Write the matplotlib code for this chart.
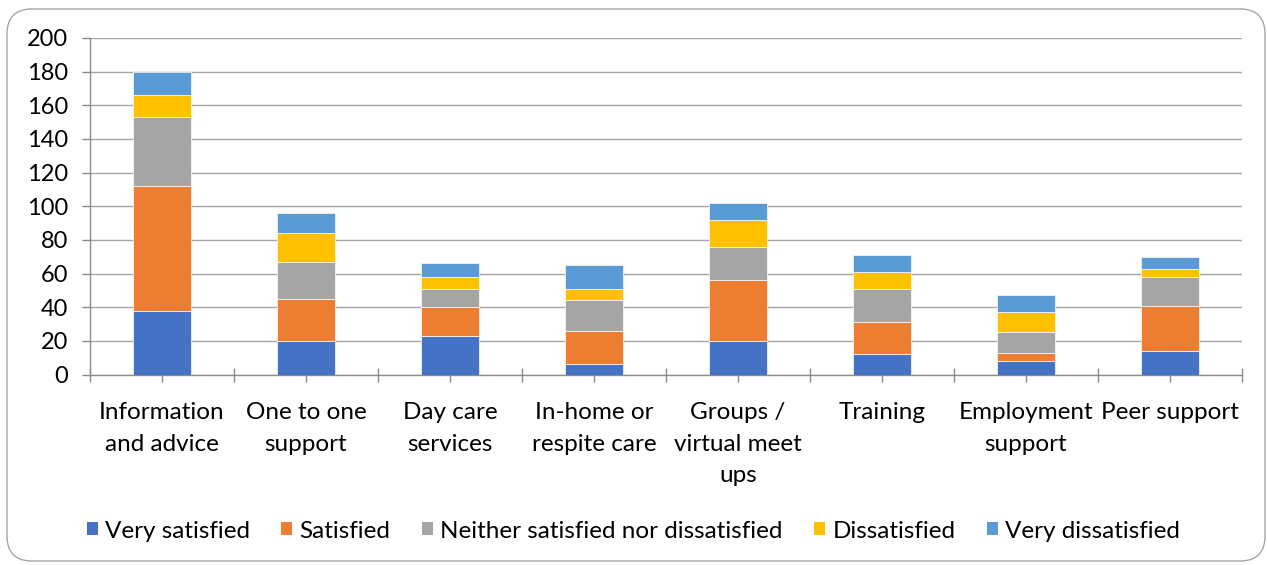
import matplotlib
matplotlib.use("Agg")
import matplotlib.pyplot as plt
from matplotlib.patches import FancyBboxPatch, Patch
import numpy as np

categories = ["Information\nand advice", "One to one\nsupport", "Day care\nservices",
              "In-home or\nrespite care", "Groups /\nvirtual meet\nups", "Training",
              "Employment\nsupport", "Peer support"]
series_names = ["Very satisfied", "Satisfied", "Neither satisfied nor dissatisfied",
                "Dissatisfied", "Very dissatisfied"]
very_satisfied = [38, 20, 23, 6, 20, 12, 8, 14]
satisfied = [74, 25, 17, 20, 36, 19, 5, 27]
neither = [41, 22, 11, 18, 20, 20, 12, 17]
dissatisfied = [13, 17, 7, 7, 16, 10, 12, 5]
very_dissatisfied = [14, 12, 8, 14, 10, 10, 10, 7]
yticks = [0, 20, 40, 60, 80, 100, 120, 140, 160, 180, 200]

colors = ["#4472C4", "#ED7D31", "#A5A5A5", "#FFC000", "#5B9BD5"]

plt.rcParams['font.family'] = ['Lato', 'DejaVu Sans']

W, H = 1267, 565
fig = plt.figure(figsize=(W / 100, H / 100), dpi=100)
ax = fig.add_axes([90 / W, 1 - 374.5 / H, (1242 - 90) / W, (374.5 - 38) / H])

x = np.arange(len(categories))
bottom = np.zeros(len(categories))
data = [very_satisfied, satisfied, neither, dissatisfied, very_dissatisfied]
for vals, name, c in zip(data, series_names, colors):
    ax.bar(x, vals, width=0.4, bottom=bottom, color=c, label=name,
           edgecolor="white", linewidth=0.5, zorder=3)
    bottom += np.array(vals)

ax.set_xlim(-0.5, len(categories) - 0.5)
ax.set_ylim(0, 200)
ax.set_yticks(yticks)
ax.set_yticklabels([str(v) for v in yticks], fontsize=17)
ax.yaxis.grid(True, color="#a6a6a6", linewidth=1.0, zorder=0)
ax.set_axisbelow(True)

ax.set_xticks(x)
ax.set_xticklabels(categories, fontsize=17.5, linespacing=1.62)
ax.set_xticks(np.arange(-0.5, len(categories), 1.0), minor=True)
ax.tick_params(axis='x', which='both', direction='inout', length=10, width=1.0,
               color="#8c8c8c", pad=15)
ax.tick_params(axis='y', direction='out', length=6, width=1.0, color="#8c8c8c", pad=10)

for s in ["top", "right"]:
    ax.spines[s].set_visible(False)
for s in ["left", "bottom"]:
    ax.spines[s].set_color("#8c8c8c")
    ax.spines[s].set_linewidth(1.0)

handles = [Patch(facecolor=c) for c in colors]
fig.legend(handles, series_names, loc="center", bbox_to_anchor=(0.5, 1 - 531 / H),
           ncol=5, frameon=False, fontsize=17.5, handlelength=0.45, handleheight=0.45,
           handletextpad=0.3, columnspacing=1.3)

border = FancyBboxPatch((7, 4), 1258, 552, boxstyle="round,pad=0,rounding_size=25",
                        transform=None, facecolor="none", edgecolor="#a6a6a6",
                        linewidth=1.0)
fig.patches.append(border)

fig.savefig("out.png", dpi=100)
